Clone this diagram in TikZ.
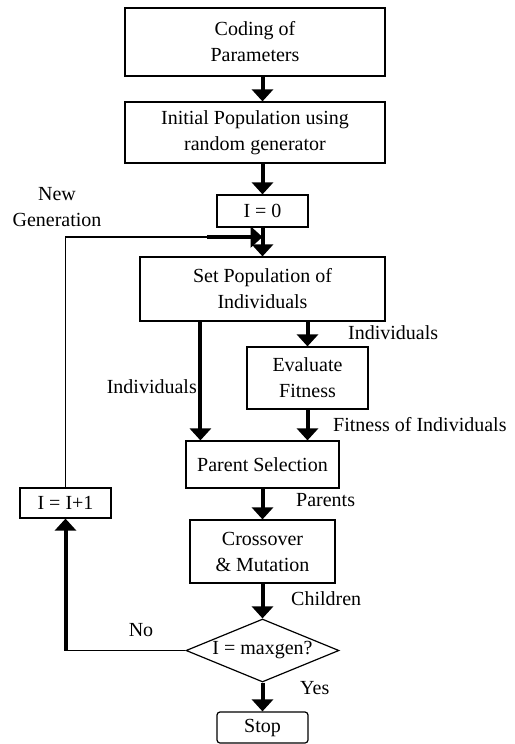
\documentclass[tikz,border=0pt]{standalone}
\usepackage{fontspec}
\setmainfont{Liberation Serif}
\usetikzlibrary{shapes.geometric, arrows.meta, positioning}

\tikzset{
    block/.style={draw, line width=1.2pt, align=center, inner sep=0pt,
        font=\fontsize{20}{26}\selectfont},
    choice/.style={block, diamond, aspect=2.4},
    tag/.style={inner sep=0pt, align=center, font=\fontsize{20}{26}\selectfont},
    flow/.style={line width=4pt, -{Triangle[width=21pt,length=12pt]}},
    back/.style={line width=1.5pt},
}

\begin{document}
\begin{tikzpicture}[x=1pt, y=-1pt]
    \useasboundingbox (0,0) rectangle (514,744);
    % main column
    \node[block, minimum width=260pt, minimum height=68pt] (code) at (255,42) {Coding of\\Parameters};
    \node[block, minimum width=260pt, minimum height=61pt] (init) at (255,132.5) {Initial Population using\\random generator};
    \node[block, minimum width=91pt, minimum height=32pt] (izero) at (262.5,211) {I = 0};
    \node[block, minimum width=245pt, minimum height=64pt] (setpop) at (262.5,289) {Set Population of\\Individuals};
    \node[block, minimum width=121pt, minimum height=62pt] (eval) at (307.5,378) {Evaluate\\Fitness};
    \node[block, minimum width=153pt, minimum height=47pt] (parent) at (262.5,464.5) {Parent Selection};
    \node[block, minimum width=145pt, minimum height=63pt] (cross) at (262.5,551.5) {Crossover\\\& Mutation};
    \node[choice, minimum width=153pt, minimum height=63pt] (check) at (262.5,650.5) {I = maxgen?};
    \node[block, rounded corners=3pt, minimum width=91pt, minimum height=31pt] (stop) at (262.5,727.5) {Stop};
    % loop counter
    \node[block, minimum width=91pt, minimum height=30pt] (inc) at (65.5,503) {I = I+1};

    % labels
    \node[tag] (newgen) at (57,207) {New\\Generation};
    \node[tag, anchor=west] (indright) at (348,333) {Individuals};
    \node[tag, anchor=east] (indleft) at (197,387) {Individuals};
    \node[tag, anchor=west] (fitlab) at (333,425) {Fitness of Individuals};
    \node[tag, anchor=west] (parlab) at (296,500) {Parents};
    \node[tag, anchor=west] (chilab) at (291,599) {Children};
    \node[tag] (nolab) at (141,630) {No};
    \node[tag, anchor=west] (yeslab) at (300,688) {Yes};

    \coordinate (join) at (262.5,237);
    \coordinate (thick) at (207,237);
    \coordinate (lsplit) at ([xshift=61pt]setpop.south west);
    \coordinate (nocorner) at (inc.south |- check.west);

    % arrows
    \draw[flow] (code.south -| izero) -- (init.north -| izero);
    \draw[flow] (init.south -| izero) -- (izero.north);
    \draw[flow] (izero.south) -- (setpop.north -| izero);
    \draw[flow] (setpop.south -| eval) -- (eval.north);
    \draw[flow] (lsplit) -- (lsplit |- parent.north);
    \draw[flow] (eval.south) -- (eval.south |- parent.north);
    \draw[flow] (parent.south) -- (cross.north);
    \draw[flow] (cross.south) -- (check.north);
    \draw[flow] (check.south) -- (stop.north);
    % back loop
    \draw[back] (check.west) -- (nocorner);
    \draw[flow] (nocorner) -- (inc.south);
    \draw[back] (inc.north) |- (thick);
    \draw[flow] (thick) -- (join);
\end{tikzpicture}
\end{document}
